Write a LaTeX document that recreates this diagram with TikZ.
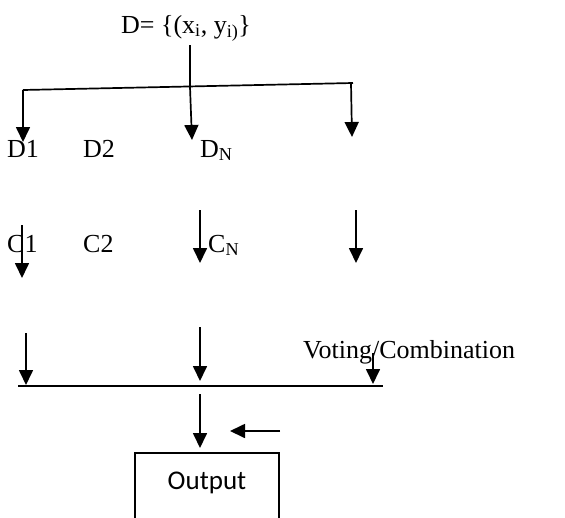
\documentclass[tikz,border=0pt]{standalone}
\usepackage{fontspec}
\setmainfont{Liberation Serif}
\newfontfamily\calfont{Carlito}
\usetikzlibrary{arrows.meta}
\begin{document}
\begin{tikzpicture}[x=1pt,y=-1pt,
  conn/.style={line width=1.7pt},
  arr/.style={line width=1.7pt,-{Triangle[length=15pt,width=14pt]}},
  lbl/.style={anchor=base west,inner sep=0pt,font=\fontsize{26}{28}\selectfont},
  outbox/.style={line width=1.2pt}]
\useasboundingbox (0,0) rectangle (565,517);
% labels
\node[lbl,anchor=base] (D) at (186,33) {D= \{(x\textsubscript{i}, y\textsubscript{i)}\}};
\node[lbl] (D1) at (7,157) {D1};
\node[lbl] (D2) at (83,157) {D2};
\node[lbl] (DN) at (200,157) {D\textsubscript{N}};
\node[lbl] (C1) at (7,252) {C1};
\node[lbl] (C2) at (83,252) {C2};
\node[lbl] (CN) at (208,252) {C\textsubscript{N}};
\node[lbl] (V) at (303,358) {Voting/Combination};
% coordinates
\coordinate (t0) at (190,45);
\coordinate (t1) at (190,87);
\coordinate (hL) at (23,90);
\coordinate (hR) at (353,83);
\coordinate (a1) at (23,142);
\coordinate (a2) at (192,140);
\coordinate (h3) at (351,83);
\coordinate (a3) at (352,137);
\coordinate (b1s) at (22,225);
\coordinate (b1e) at (22,278);
\coordinate (b2s) at (200,210);
\coordinate (b2e) at (200,263);
\coordinate (b3s) at (356,210);
\coordinate (b3e) at (356,263);
\coordinate (c1s) at (26,333);
\coordinate (c1e) at (26,385);
\coordinate (c2s) at (200,327);
\coordinate (c2e) at (200,381);
\coordinate (c3s) at (373,353);
\coordinate (c3e) at (373,384);
\coordinate (bl) at (18,386);
\coordinate (br) at (383,386);
\coordinate (o1) at (200,394);
\coordinate (o2) at (200,448);
\coordinate (l1) at (280,431);
\coordinate (l2) at (230,431);
% lines
\draw[conn] (t0) -- (t1);
\draw[conn] (hL) -- (hR);
\draw[arr] (hL) -- (a1);
\draw[arr] (t1) -- (a2);
\draw[arr] (h3) -- (a3);
\draw[arr] (b1s) -- (b1e);
\draw[arr] (b2s) -- (b2e);
\draw[arr] (b3s) -- (b3e);
\draw[arr] (c1s) -- (c1e);
\draw[arr] (c2s) -- (c2e);
\draw[arr] (c3s) -- (c3e);
\draw[conn] (bl) -- (br);
\draw[arr] (o1) -- (o2);
\draw[arr] (l1) -- (l2);
% output box (bottom cut off)
\draw[outbox] (135,520) -- (135,453) -- (279,453) -- (279,520);
\node[font=\calfont\fontsize{27}{29}\selectfont,inner sep=0pt] (out) at (207,483) {Output};
\end{tikzpicture}
\end{document}
